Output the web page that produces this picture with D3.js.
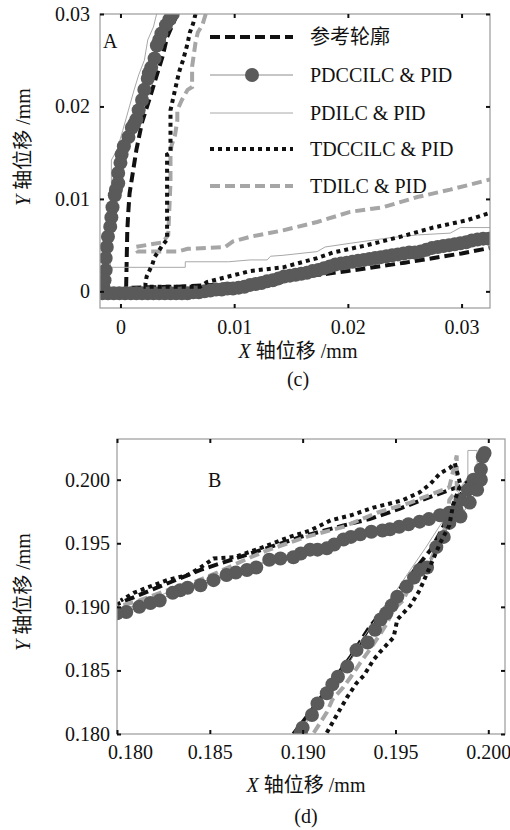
<!DOCTYPE html>
<html>
<head>
<meta charset="utf-8">
<script src="https://cdn.jsdelivr.net/npm/d3@7"></script>
</head>
<body style="margin:0;background:#fff">
<div id="chart-area"></div>
<script>
// series names (legend order)
const seriesNames = ['参考轮廓', 'PDCCILC & PID', 'PDILC & PID', 'TDCCILC & PID', 'TDILC & PID'];

// tick values
const topXTicks = [0, 0.01, 0.02, 0.03];
const topYTicks = [0, 0.01, 0.02, 0.03];
const botXTicks = [0.180, 0.185, 0.190, 0.195, 0.200];
const botYTicks = [0.180, 0.185, 0.190, 0.195, 0.200];

// ---- panel (c), zoom A : [x, y] in mm
const topRef = [[0.0050,0.0300],[0.0041,0.0275],[0.0037,0.0254],[0.0032,0.0234],[0.0026,0.0210],[0.0019,0.0183],
  [0.0014,0.0153],[0.0008,0.0106],[0.0007,0.0088],[0.0006,0.0066],[0.0005,0.0005],[0.0010,0.0004],[0.0050,0.0005],
  [0.0100,0.0008],[0.0150,0.0014],[0.0200,0.0022],[0.0250,0.0031],[0.0300,0.0041],[0.0325,0.0047]];

const topPDCC = [[0.0046,0.0300],[0.0043,0.0294],[0.0040,0.0288],[0.0036,0.0279],[0.0034,0.0272],[0.0032,0.0266],
  [0.0030,0.0252],[0.0027,0.0242],[0.0025,0.0236],[0.0024,0.0230],[0.0021,0.0218],[0.0019,0.0207],[0.0016,0.0196],
  [0.0014,0.0186],[0.0012,0.0181],[0.0010,0.0177],[0.0007,0.0167],[0.0003,0.0157],[0.0001,0.0148],[0.0000,0.0139],
  [-0.0002,0.0128],[-0.0002,0.0117],[-0.0004,0.0110],[-0.0005,0.0104],[-0.0007,0.0091],[-0.0008,0.0080],
  [-0.0009,0.0070],[-0.0011,0.0059],[-0.0012,0.0048],[-0.0013,0.0036],[-0.0013,0.0023],[-0.0014,0.0012],
  [-0.0015,0.0005],[-0.0016,-0.0002],[-0.0011,-0.0002],[-0.0006,-0.0002],[-0.0001,-0.0002],[0.0004,-0.0002],
  [0.0009,-0.0002],[0.0014,-0.0002],[0.0019,-0.0002],[0.0024,-0.0002],[0.0029,-0.0002],[0.0034,-0.0002],
  [0.0039,-0.0002],[0.0044,-0.0002],[0.0049,-0.0002],[0.0054,-0.0002],[0.0059,-0.0002],[0.0064,-0.0001],
  [0.0069,-0.0001],[0.0074,0.0000],[0.0079,0.0001],[0.0084,0.0002],[0.0089,0.0002],[0.0094,0.0003],[0.0099,0.0003],
  [0.0104,0.0004],[0.0109,0.0005],[0.0114,0.0007],[0.0119,0.0008],[0.0124,0.0009],[0.0129,0.0011],[0.0134,0.0012],
  [0.0139,0.0014],[0.0144,0.0016],[0.0149,0.0017],[0.0154,0.0018],[0.0159,0.0019],[0.0164,0.0020],[0.0169,0.0022],
  [0.0174,0.0023],[0.0179,0.0025],[0.0184,0.0027],[0.0189,0.0029],[0.0194,0.0030],[0.0199,0.0031],[0.0204,0.0032],
  [0.0209,0.0033],[0.0214,0.0034],[0.0219,0.0035],[0.0224,0.0036],[0.0229,0.0037],[0.0234,0.0038],[0.0239,0.0039],
  [0.0244,0.0040],[0.0249,0.0041],[0.0254,0.0042],[0.0259,0.0042],[0.0264,0.0043],[0.0269,0.0045],[0.0274,0.0047],
  [0.0279,0.0048],[0.0284,0.0049],[0.0289,0.0050],[0.0294,0.0051],[0.0299,0.0052],[0.0304,0.0053],[0.0309,0.0055],
  [0.0314,0.0056],[0.0319,0.0057],[0.0324,0.0057]];

const topPDIL = [[0.0032,0.0301],[0.0029,0.0286],[0.0024,0.0272],[0.0021,0.0250],[0.0016,0.0234],[0.0012,0.0218],
  [0.0007,0.0196],[0.0002,0.0174],[-0.0003,0.0153],[-0.0008,0.0142],[-0.0008,0.0102],[-0.0009,0.0026],[0.0057,0.0026],
  [0.0057,0.0032],[0.0095,0.0032],[0.0114,0.0034],[0.0129,0.0034],[0.0132,0.0038],[0.0143,0.0039],[0.0173,0.0043],
  [0.0180,0.0048],[0.0202,0.0052],[0.0237,0.0058],[0.0261,0.0061],[0.0290,0.0063],[0.0299,0.0069],[0.0325,0.0069]];

const topTDCC = [[0.0066,0.0300],[0.0064,0.0290],[0.0061,0.0280],[0.0059,0.0268],[0.0055,0.0250],[0.0052,0.0239],
  [0.0050,0.0229],[0.0046,0.0207],[0.0044,0.0196],[0.0044,0.0150],[0.0041,0.0148],[0.0041,0.0086],[0.0041,0.0056],
  [0.0037,0.0050],[0.0030,0.0037],[0.0028,0.0029],[0.0023,0.0016],[0.0022,0.0009],[0.0022,0.0005],[0.0070,0.0005],
  [0.0076,0.0010],[0.0114,0.0022],[0.0143,0.0026],[0.0173,0.0036],[0.0187,0.0042],[0.0217,0.0050],[0.0246,0.0059],
  [0.0275,0.0069],[0.0305,0.0077],[0.0325,0.0085]];

const topTDIL = [[0.0075,0.0300],[0.0072,0.0288],[0.0068,0.0280],[0.0066,0.0269],[0.0063,0.0243],[0.0063,0.0221],
  [0.0059,0.0218],[0.0054,0.0207],[0.0050,0.0196],[0.0050,0.0185],[0.0048,0.0169],[0.0045,0.0158],[0.0044,0.0150],
  [0.0044,0.0118],[0.0042,0.0061],[0.0037,0.0053],[0.0013,0.0048],[0.0015,0.0043],[0.0050,0.0043],[0.0059,0.0046],
  [0.0092,0.0048],[0.0099,0.0054],[0.0114,0.0059],[0.0143,0.0066],[0.0173,0.0075],[0.0202,0.0086],[0.0231,0.0091],
  [0.0261,0.0102],[0.0290,0.0110],[0.0325,0.0121]];

// ---- panel (d), zoom B
const botRef = [[0.1895,0.1800],[0.1904,0.1817],[0.1915,0.1839],[0.1926,0.1861],[0.1936,0.1884],[0.1945,0.1900],
  [0.1956,0.1921],[0.1969,0.1945],[0.1974,0.1958],[0.1983,0.1984],[0.1990,0.1998],[0.1996,0.2004],[0.1985,0.1995],
  [0.1966,0.1985],[0.1952,0.1977],[0.1936,0.1969],[0.1922,0.1964],[0.1899,0.1955],[0.1872,0.1942],[0.1845,0.1929],
  [0.1818,0.1913],[0.1800,0.1902]];

const botPDCC = [[0.1899,0.1801],[0.1900,0.1805],[0.1905,0.1815],[0.1908,0.1824],[0.1913,0.1832],[0.1916,0.1839],
  [0.1919,0.1845],[0.1924,0.1853],[0.1929,0.1866],[0.1935,0.1872],[0.1939,0.1882],[0.1942,0.1890],[0.1945,0.1895],
  [0.1948,0.1901],[0.1951,0.1908],[0.1956,0.1916],[0.1960,0.1923],[0.1963,0.1929],[0.1967,0.1931],[0.1972,0.1947],
  [0.1976,0.1955],[0.1979,0.1966],[0.1983,0.1976],[0.1985,0.1984],[0.1989,0.1992],[0.1992,0.2000],[0.1996,0.2008],
  [0.1997,0.2018],[0.1998,0.2021],[0.1996,0.2000],[0.1994,0.1992],[0.1990,0.1982],[0.1985,0.1971],[0.1979,0.1974],
  [0.1974,0.1972],[0.1968,0.1969],[0.1963,0.1967],[0.1957,0.1965],[0.1952,0.1963],[0.1947,0.1961],[0.1943,0.1960],
  [0.1937,0.1959],[0.1931,0.1957],[0.1926,0.1955],[0.1922,0.1953],[0.1917,0.1949],[0.1913,0.1946],[0.1908,0.1945],
  [0.1904,0.1945],[0.1899,0.1942],[0.1895,0.1939],[0.1888,0.1938],[0.1882,0.1937],[0.1875,0.1931],[0.1870,0.1929],
  [0.1864,0.1927],[0.1859,0.1925],[0.1852,0.1921],[0.1845,0.1917],[0.1838,0.1915],[0.1834,0.1913],[0.1830,0.1911],
  [0.1823,0.1905],[0.1818,0.1903],[0.1812,0.1900],[0.1805,0.1896],[0.1800,0.1895]];

const botPDIL = [[0.1897,0.1800],[0.1901,0.1809],[0.1907,0.1820],[0.1912,0.1831],[0.1917,0.1843],[0.1924,0.1857],
  [0.1930,0.1870],[0.1936,0.1883],[0.1943,0.1898],[0.1950,0.1912],[0.1958,0.1929],[0.1966,0.1946],[0.1974,0.1964],
  [0.1981,0.1980],[0.1986,0.1996],[0.1989,0.2002],[0.1989,0.2023],[0.1994,0.2023],[0.1994,0.2008],[0.1987,0.1988],
  [0.1979,0.1975],[0.1969,0.1970],[0.1952,0.1963],[0.1936,0.1957],[0.1920,0.1951],[0.1904,0.1945],[0.1888,0.1939],
  [0.1872,0.1932],[0.1856,0.1924],[0.1839,0.1917],[0.1823,0.1909],[0.1810,0.1901],[0.1800,0.1898]];

const botTDCC = [[0.1913,0.1801],[0.1920,0.1819],[0.1924,0.1829],[0.1929,0.1840],[0.1933,0.1846],[0.1938,0.1858],
  [0.1942,0.1865],[0.1949,0.1876],[0.1951,0.1890],[0.1958,0.1901],[0.1963,0.1913],[0.1969,0.1933],[0.1974,0.1950],
  [0.1979,0.1964],[0.1981,0.1980],[0.1985,0.1996],[0.1982,0.2013],[0.1979,0.2009],[0.1974,0.2005],[0.1969,0.1997],
  [0.1963,0.1990],[0.1954,0.1984],[0.1949,0.1982],[0.1938,0.1978],[0.1926,0.1972],[0.1915,0.1968],[0.1904,0.1960],
  [0.1893,0.1955],[0.1877,0.1946],[0.1863,0.1939],[0.1852,0.1938],[0.1845,0.1931],[0.1838,0.1925],[0.1827,0.1921],
  [0.1816,0.1915],[0.1809,0.1911],[0.1802,0.1905]];

const botTDIL = [[0.1906,0.1801],[0.1913,0.1817],[0.1916,0.1827],[0.1922,0.1837],[0.1926,0.1845],[0.1931,0.1856],
  [0.1936,0.1866],[0.1942,0.1879],[0.1945,0.1886],[0.1949,0.1898],[0.1954,0.1905],[0.1958,0.1917],[0.1963,0.1924],
  [0.1969,0.1937],[0.1974,0.1953],[0.1978,0.1966],[0.1979,0.1984],[0.1983,0.1992],[0.1983,0.2019],[0.1979,0.1994],
  [0.1972,0.1990],[0.1958,0.1982],[0.1940,0.1974],[0.1922,0.1963],[0.1902,0.1955],[0.1882,0.1945],[0.1872,0.1939],
  [0.1854,0.1927],[0.1841,0.1919],[0.1827,0.1913],[0.1812,0.1905],[0.1800,0.1900]];

// line styles per series
const styles = {
  '参考轮廓':      {stroke: '#111', width: 4, dash: '10,5'},
  'PDCCILC & PID': {stroke: '#8c8c8c', width: 1, dash: null, marker: true},
  'PDILC & PID':   {stroke: '#a8a8a8', width: 1, dash: null},
  'TDCCILC & PID': {stroke: '#111', width: 4, dash: '4,4'},
  'TDILC & PID':   {stroke: '#a6a6a6', width: 4, dash: '10,5'}
};
const drawOrder = ['参考轮廓', 'TDILC & PID', 'PDILC & PID', 'PDCCILC & PID', 'TDCCILC & PID'];
const fontStack = 'Liberation Serif, Noto Sans CJK SC';

const svg = d3.select('#chart-area')
  .append('svg')
  .attr('width', 510)
  .attr('height', 830)
  .attr('font-family', fontStack);

function drawPanel(p) {
  const x = d3.scaleLinear().domain(p.xDomain).range([p.left, p.right]);
  const y = d3.scaleLinear().domain(p.yDomain).range([p.bottom, p.top]);
  const g = svg.append('g');

  const clipId = 'clip-' + p.id;
  g.append('clipPath').attr('id', clipId)
    .append('rect')
    .attr('x', p.left).attr('y', p.top)
    .attr('width', p.right - p.left).attr('height', p.bottom - p.top);

  // series
  const plot = g.append('g').attr('clip-path', `url(#${clipId})`);
  const line = d3.line().x(d => x(d[0])).y(d => y(d[1]));
  drawOrder.forEach(name => {
    const st = styles[name];
    const data = p.series[name];
    plot.append('path')
      .datum(data)
      .attr('d', line)
      .attr('fill', 'none')
      .attr('stroke', st.stroke)
      .attr('stroke-width', st.width)
      .attr('stroke-dasharray', st.dash);
    if (st.marker) {
      plot.selectAll(null).data(data).enter()
        .append('circle')
        .attr('cx', d => x(d[0]))
        .attr('cy', d => y(d[1]))
        .attr('r', 7)
        .attr('fill', '#5a5a5a');
    }
  });

  // frame
  g.append('rect')
    .attr('x', p.left).attr('y', p.top)
    .attr('width', p.right - p.left).attr('height', p.bottom - p.top)
    .attr('fill', 'none').attr('stroke', '#9a9a9a').attr('stroke-width', 1.2);

  // axes (inward ticks)
  const xAxisCall = d3.axisBottom(x).tickValues(p.xTicks).tickSize(-4).tickSizeOuter(0)
    .tickPadding(p.xPad).tickFormat(p.fmt);
  const yAxisCall = d3.axisLeft(y).tickValues(p.yTicks).tickSize(-4).tickSizeOuter(0)
    .tickPadding(p.yPad).tickFormat(p.fmt);
  const xTopCall = d3.axisTop(x).tickValues(p.xTicks).tickSize(-4).tickSizeOuter(0).tickFormat('');
  const yRightCall = d3.axisRight(y).tickValues(p.yTicks).tickSize(-4).tickSizeOuter(0).tickFormat('');

  const axes = [
    g.append('g').attr('transform', `translate(0, ${p.bottom})`).call(xAxisCall),
    g.append('g').attr('transform', `translate(${p.left}, 0)`).call(yAxisCall),
    g.append('g').attr('transform', `translate(0, ${p.top})`).call(xTopCall),
    g.append('g').attr('transform', `translate(${p.right}, 0)`).call(yRightCall)
  ];
  axes.forEach(a => {
    a.attr('font-family', fontStack).attr('font-size', 20);
    a.select('.domain').remove();
    a.selectAll('.tick line').attr('stroke', '#111').attr('stroke-width', 2);
    a.selectAll('.tick text').attr('fill', '#111');
  });
  if (p.firstXShift) {
    axes[0].selectAll('.tick text').filter((d, i) => i === 0).attr('dx', p.firstXShift);
  }

  // zoom letter
  g.append('text').attr('x', p.letterX).attr('y', p.letterY)
    .attr('font-size', 20).attr('fill', '#111').text(p.letter);

  // X label
  const xl = g.append('text').attr('x', (p.left + p.right) / 2 + p.xLabelDx).attr('y', p.xLabelY)
    .attr('text-anchor', 'middle').attr('font-size', 20).attr('fill', '#111');
  xl.append('tspan').attr('font-style', 'italic').text('X');
  xl.append('tspan').text(' 轴位移 /mm');

  // Y label
  const yl = g.append('text')
    .attr('transform', `translate(${p.yLabelX}, ${p.yLabelY}) rotate(-90)`)
    .attr('text-anchor', 'middle').attr('font-size', 20).attr('fill', '#111');
  yl.append('tspan').attr('font-style', 'italic').text('Y');
  yl.append('tspan').text(' 轴位移 /mm');

  // caption
  g.append('text').attr('x', (p.left + p.right) / 2 + p.xLabelDx).attr('y', p.captionY)
    .attr('text-anchor', 'middle').attr('font-size', 20).attr('fill', '#111').text(p.caption);

  return g;
}

const topPanel = drawPanel({
  id: 'c', left: 100, right: 490, top: 14, bottom: 308,
  xDomain: [-0.0018, 0.0325], yDomain: [-0.0018, 0.030],
  xTicks: topXTicks, yTicks: topYTicks,
  fmt: d => d === 0 ? '0' : d3.format('.2f')(d),
  xPad: 12, yPad: 10,
  series: {'参考轮廓': topRef, 'PDCCILC & PID': topPDCC, 'PDILC & PID': topPDIL,
           'TDCCILC & PID': topTDCC, 'TDILC & PID': topTDIL},
  letter: 'A', letterX: 103, letterY: 48,
  xLabelDx: 3, xLabelY: 358, yLabelX: 30, yLabelY: 147,
  caption: '(c)', captionY: 386
});

drawPanel({
  id: 'd', left: 117, right: 505, top: 439, bottom: 734,
  xDomain: [0.180, 0.2009], yDomain: [0.180, 0.2032],
  xTicks: botXTicks, yTicks: botYTicks,
  fmt: d3.format('.3f'),
  xPad: 11, yPad: 7, firstXShift: 13,
  series: {'参考轮廓': botRef, 'PDCCILC & PID': botPDCC, 'PDILC & PID': botPDIL,
           'TDCCILC & PID': botTDCC, 'TDILC & PID': botTDIL},
  letter: 'B', letterX: 208, letterY: 487,
  xLabelDx: -5, xLabelY: 792, yLabelX: 30, yLabelY: 592,
  caption: '(d)', captionY: 823
});

// legend in panel (c)
const legendRowY = [37, 75, 113, 149, 186];
const legend = topPanel.append('g');
seriesNames.forEach((name, i) => {
  const st = styles[name];
  const row = legend.append('g').attr('transform', `translate(0, ${legendRowY[i]})`);
  row.append('line')
    .attr('x1', 210).attr('x2', 293).attr('y1', 0).attr('y2', 0)
    .attr('stroke', st.stroke).attr('stroke-width', st.width)
    .attr('stroke-dasharray', st.dash);
  if (st.marker) {
    row.append('circle').attr('cx', 252).attr('cy', 0).attr('r', 7).attr('fill', '#5a5a5a');
  }
  row.append('text').attr('x', 310).attr('y', 7).attr('font-size', 20).attr('fill', '#111').text(name);
});
</script>
</body>
</html>
